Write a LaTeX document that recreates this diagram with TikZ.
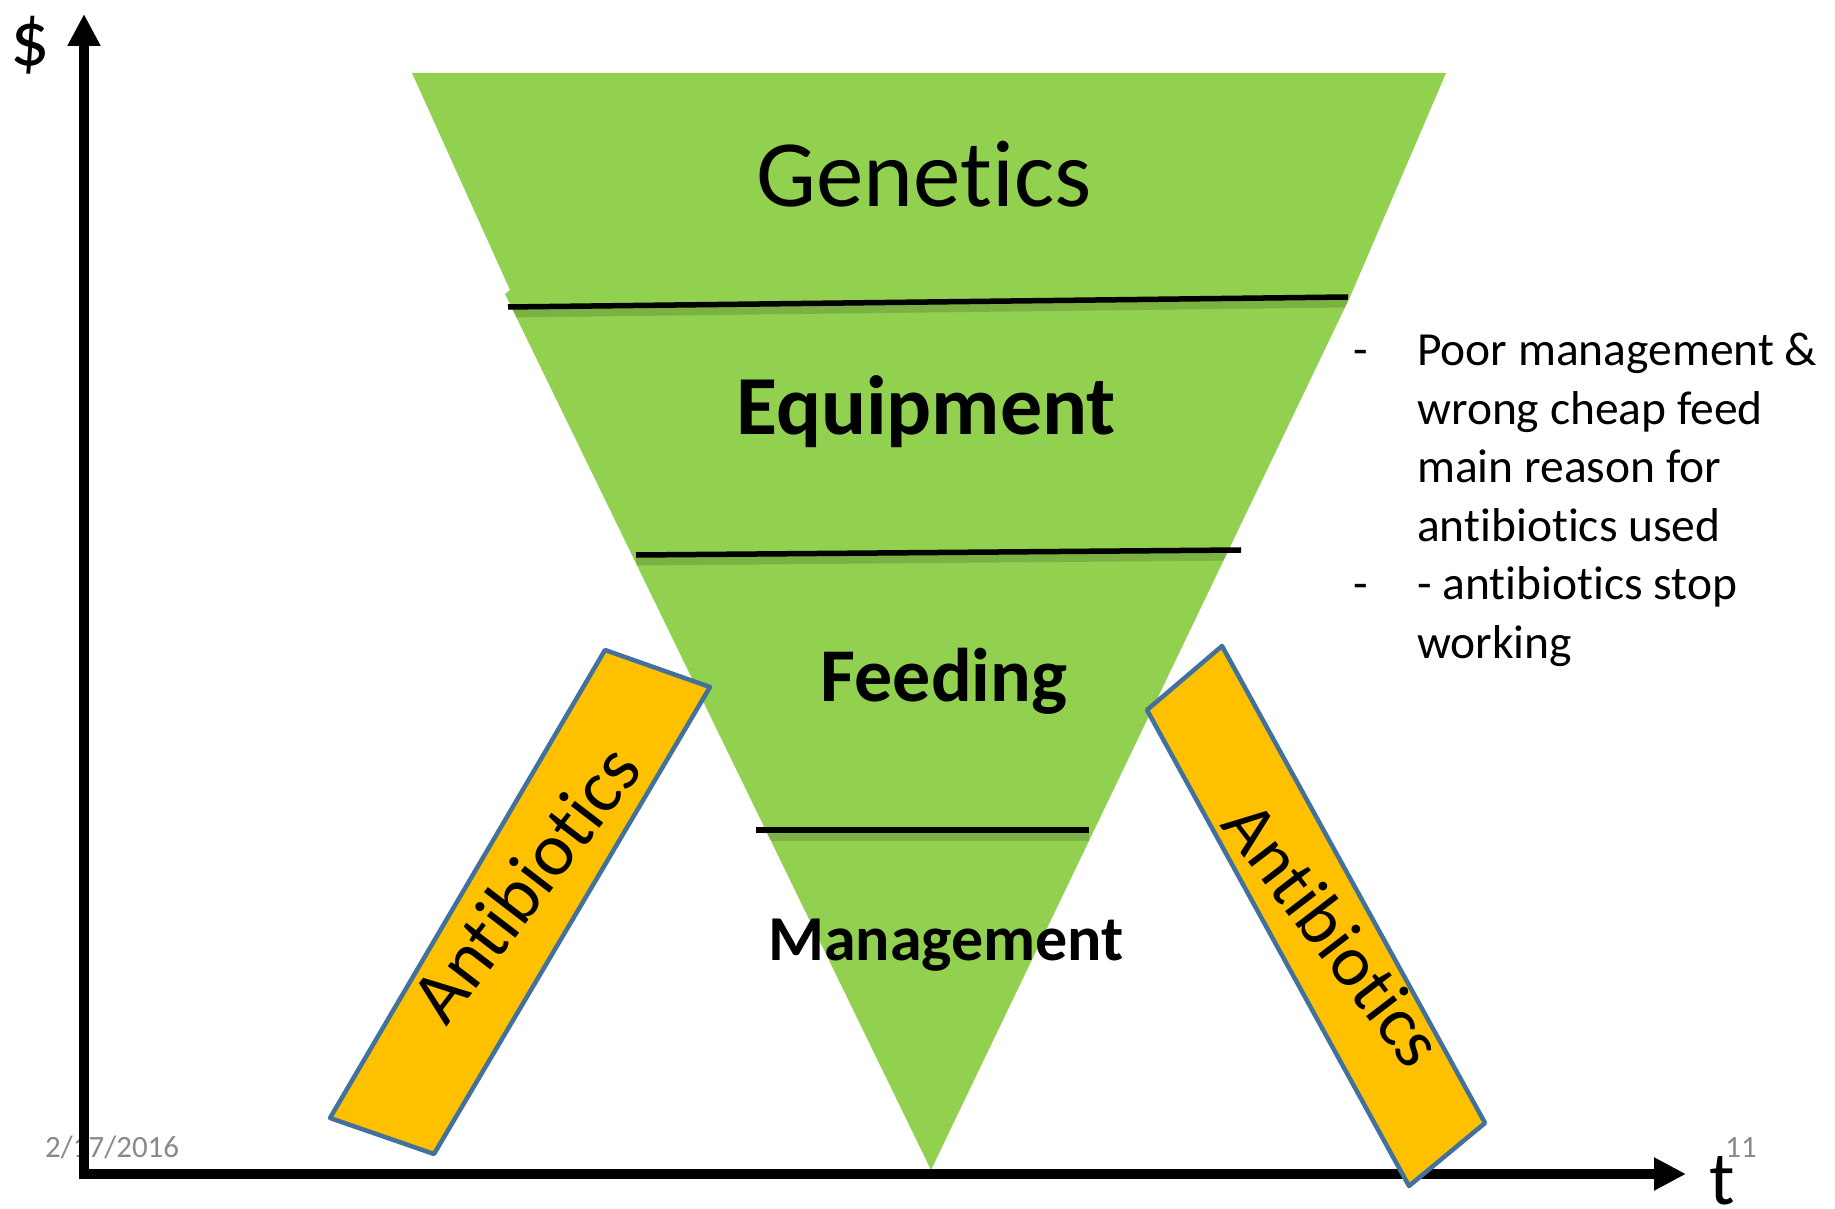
\documentclass[tikz,border=0pt]{standalone}
\usepackage{fontspec}
\setmainfont{Carlito}[Ligatures={NoCommon,NoContextual}]
\usetikzlibrary{arrows.meta}
\definecolor{layergreen}{RGB}{146,208,80}
\definecolor{pillgold}{RGB}{255,192,0}
\definecolor{pillblue}{RGB}{65,113,156}
\definecolor{footgray}{RGB}{137,137,137}
\begin{document}
\begin{tikzpicture}[x = 1pt, y = 1pt]
\tikzstyle{AxisStyle}=[line width = 10pt,
                       -{Triangle[length = 32pt, width = 31pt]}]
\tikzstyle{DividerStyle}=[line width = 5.5pt]
\tikzstyle{ShadeStyle}=[line width = 9pt, black, opacity = 0.15]
\tikzstyle{LayerText}=[inner sep = 0pt, anchor = base]
\tikzstyle{PillStyle}=[fill = pillgold, draw = pillblue, line width = 4.5pt, line join = round]
\tikzstyle{PillText}=[inner sep = 0pt]
\tikzstyle{FootText}=[inner sep = 0pt, text = footgray, font = \fontsize{31}{37}\selectfont]
\useasboundingbox (0,0) rectangle (1835,1208);
\node[FootText, anchor = base west] (date) at (45,51) {2/17/2016};
\node[FootText, anchor = base east] (pagenum) at (1757,51) {11};
\coordinate (g1) at (412,1135);
\coordinate (g2) at (1446,1135);
\coordinate (g3) at (1353,918);
\coordinate (g4) at (1350,911);
\coordinate (g5) at (931,38);
\coordinate (g6) at (505,914);
\coordinate (g7) at (510,918);
\fill[layergreen] (g1) -- (g2) -- (g3) -- (g4) -- (g5) -- (g6) -- (g7) -- cycle;
\coordinate (d1l) at (508,901);
\coordinate (d1r) at (1348,911);
\coordinate (d2l) at (636,653);
\coordinate (d2r) at (1241,658);
\coordinate (d3l) at (756,378);
\coordinate (d3r) at (1089,378);
\begin{scope}
\clip (g1) -- (g2) -- (g3) -- (g4) -- (g5) -- (g6) -- (g7) -- cycle;
\draw[ShadeStyle] ([yshift = -6pt]d1l) -- ([yshift = -6pt]d1r);
\draw[ShadeStyle] ([yshift = -6pt]d2l) -- ([yshift = -6pt]d2r);
\draw[ShadeStyle] ([yshift = -6pt]d3l) -- ([yshift = -6pt]d3r);
\end{scope}
\draw[DividerStyle] (d1l) -- (d1r);
\draw[DividerStyle] (d2l) -- (d2r);
\draw[DividerStyle] (d3l) -- (d3r);
\node[LayerText, font = \fontsize{95}{114}\selectfont] (genetics) at (924,1001) {Genetics};
\node[LayerText, font = \fontsize{84}{100}\selectfont\bfseries] (equipment) at (926,773) {Equipment};
\node[LayerText, font = \fontsize{76}{91}\selectfont\bfseries] (feeding) at (944,506) {Feeding};
\node[LayerText, font = \fontsize{64}{77}\selectfont\bfseries] (management) at (946,248) {Management};
\node[inner sep = 0pt, anchor = base west, font = \fontsize{47.5}{58.5}\selectfont] (note) at (1353,842)
  {\begin{tabular}[t]{@{}p{64pt}@{}l@{}}
   - & Poor management \& \\
     & wrong cheap feed \\
     & main reason for \\
     & antibiotics used \\
   - & - antibiotics stop \\
     & working
   \end{tabular}};
\node[inner sep = 0pt, anchor = base, font = \fontsize{78}{94}\selectfont] (dollar) at (30,1142) {\$};
\node[inner sep = 0pt, anchor = base, font = \fontsize{76}{91}\selectfont] (tlabel) at (1722,4) {t};
\coordinate (o) at (84,34);
\coordinate (ytip) at (84,1194);
\coordinate (xtip) at (1686,34);
\draw[AxisStyle] (o) -- (ytip);
\draw[AxisStyle] ([xshift = -5pt]o) -- (xtip);
\draw[PillStyle] (605,558) -- (710,521) -- (434,54) -- (330,90) -- cycle;
\node[PillText, rotate = 52.5, font = \fontsize{75}{90}\selectfont] (leftpill) at (525,325) {Antibiotics};
\draw[PillStyle] (1222,562) -- (1485,85) -- (1409,22) -- (1147,498) -- cycle;
\node[PillText, rotate = -52.5, font = \fontsize{72}{86}\selectfont] (rightpill) at (1334,274) {Antibiotics};
\end{tikzpicture}
\end{document}
